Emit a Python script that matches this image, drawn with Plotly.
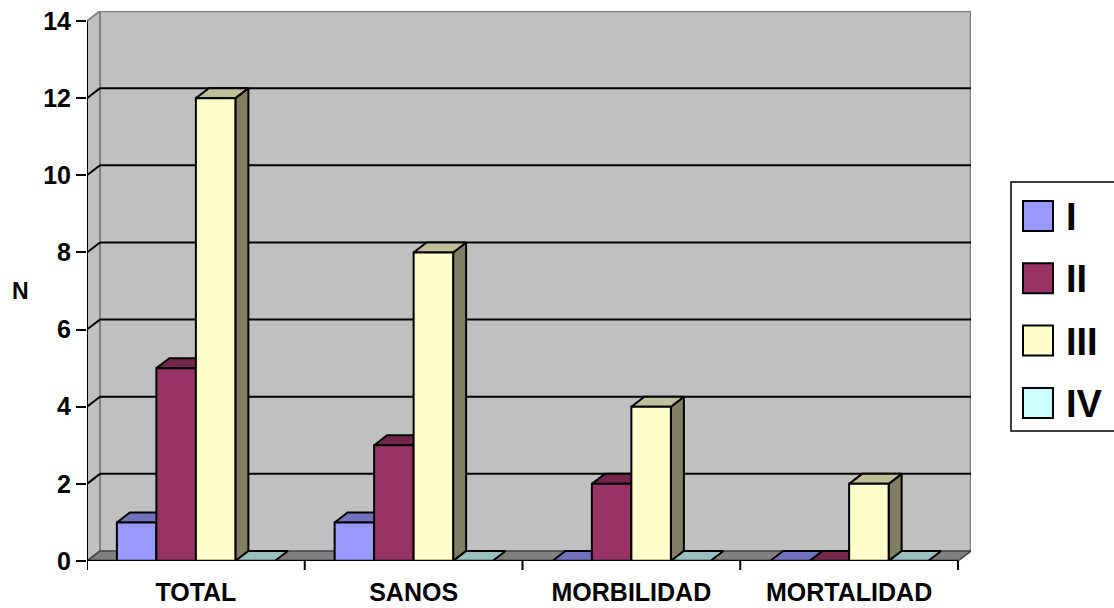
import plotly.graph_objects as go

# ---------------- data ----------------
categories = ["TOTAL", "SANOS", "MORBILIDAD", "MORTALIDAD"]
series_names = ["I", "II", "III", "IV"]
values_I = [1, 1, 0, 0]
values_II = [5, 3, 2, 0]
values_III = [12, 8, 4, 2]
values_IV = [0, 0, 0, 0]
y_tick_values = [0, 2, 4, 6, 8, 10, 12, 14]
y_axis_title = "N"

series_values = [values_I, values_II, values_III, values_IV]
front_colors = ["#9999FF", "#993366", "#FFFFCC", "#CCFFFF"]


def shade(hex_color, f):
    h = hex_color.lstrip("#")
    r, g, b = (int(h[k:k + 2], 16) for k in (0, 2, 4))
    return "#%02X%02X%02X" % (int(r * f), int(g * f), int(b * f))


top_colors = [shade(c, 0.75) for c in front_colors]
side_colors = [shade(c, 0.5) for c in front_colors]

# ---------------- geometry ----------------
W, H = 1114, 608
PL, PR, PT, PB = 87, 971, 11, 561          # plot area in pixels
n_cat = len(categories)
y_max = max(y_tick_values)
px_per_x = 871 / n_cat                      # front width of the category axis
px_per_y = 77.1 / 2
DX = 13 / px_per_x                          # 3-D depth in data units
DY = 10 / px_per_y
BW = 39.5 / px_per_x                        # bar width in data units
OFF = (1 - len(series_names) * BW) / 2

FONT = "Arial, 'Liberation Sans', sans-serif"

fig = go.Figure()


def poly(xs, ys, fill, lw=2):
    fig.add_trace(go.Scatter(
        x=xs + [xs[0]], y=ys + [ys[0]], mode="lines", fill="toself",
        fillcolor=fill, line=dict(color="black", width=lw),
        hoverinfo="skip", showlegend=False))


for i in range(n_cat):
    for j, vals in enumerate(series_values):
        v = vals[i]
        xl = i + OFF + j * BW
        xr = xl + BW
        if v > 0:
            poly([xr, xr + DX, xr + DX, xr], [0, DY, v + DY, v], side_colors[j])
        poly([xl, xr, xr + DX, xl + DX], [v, v, v + DY, v + DY], top_colors[j])
        if v > 0:
            poly([xl, xr, xr, xl], [0, 0, v, v], front_colors[j])

shapes = []
# back wall
shapes.append(dict(type="rect", xref="x", yref="y", x0=DX, x1=n_cat + DX,
                   y0=DY, y1=y_max + DY, fillcolor="#C0C0C0",
                   line=dict(width=0), layer="below"))
shapes.append(dict(type="path", xref="x", yref="y",
                   path=f"M {DX},{y_max + DY} L {n_cat + DX},{y_max + DY} L {n_cat + DX},{DY}",
                   line=dict(color="#808080", width=2.5), layer="below"))
# left wall
shapes.append(dict(type="path", xref="x", yref="y",
                   path=f"M 0,0 L 0,{y_max} L {DX},{y_max + DY} L {DX},{DY} Z",
                   fillcolor="#C0C0C0", line=dict(color="#808080", width=2),
                   layer="below"))
# floor
shapes.append(dict(type="path", xref="x", yref="y",
                   path=f"M 0,0 L {n_cat},0 L {n_cat + DX},{DY} L {DX},{DY} Z",
                   fillcolor="#808080", line=dict(color="#404040", width=1.5),
                   layer="below"))
# gridlines
for t in y_tick_values:
    if t == 0 or t == y_max:
        continue
    shapes.append(dict(type="line", xref="x", yref="y", x0=DX, x1=n_cat + DX,
                       y0=t + DY, y1=t + DY, line=dict(color="black", width=2),
                       layer="below"))
    shapes.append(dict(type="line", xref="x", yref="y", x0=0, x1=DX,
                       y0=t, y1=t + DY, line=dict(color="black", width=2),
                       layer="below"))
# front axis lines
shapes.append(dict(type="line", xref="x", yref="y", x0=0, x1=0, y0=0, y1=y_max,
                   line=dict(color="black", width=2)))
shapes.append(dict(type="line", xref="x", yref="y", x0=0, x1=n_cat, y0=0, y1=0,
                   line=dict(color="black", width=2.5)))
# category boundary tick marks
for b in range(n_cat + 1):
    shapes.append(dict(type="line", xref="x", yref="paper", x0=b, x1=b,
                       y0=0, y1=-9 / (PB - PT), line=dict(color="black", width=2)))


# ---------------- legend (manual, pixel-based) ----------------
def px_x(p):
    return (p - PL) / (PR - PL)


def px_y(p):
    return (PB - p) / (PB - PT)


lx0, ly0, ly1 = 1011, 182, 431
shapes.append(dict(type="path", xref="paper", yref="paper",
                   path=f"M {px_x(W)},{px_y(ly0)} L {px_x(lx0)},{px_y(ly0)} "
                        f"L {px_x(lx0)},{px_y(ly1)} L {px_x(W)},{px_y(ly1)}",
                   line=dict(color="black", width=1.5)))
annotations = []
for k, name in enumerate(series_names):
    cy = 216 + k * 62.3
    shapes.append(dict(type="rect", xref="paper", yref="paper",
                       x0=px_x(1023), x1=px_x(1053), y0=px_y(cy + 15), y1=px_y(cy - 15),
                       fillcolor=front_colors[k], line=dict(color="black", width=2)))
    annotations.append(dict(xref="paper", yref="paper", x=px_x(1064), y=px_y(cy + 1),
                            xanchor="left", yanchor="middle", text=name,
                            showarrow=False,
                            font=dict(family=FONT, size=38, color="black", weight="bold")))

annotations.append(dict(xref="paper", yref="paper", x=px_x(20), y=px_y(291),
                        xanchor="center", yanchor="middle", text=y_axis_title,
                        showarrow=False,
                        font=dict(family=FONT, size=23, color="black", weight="bold")))

fig.update_layout(
    width=W, height=H,
    margin=dict(l=PL, r=W - PR, t=PT, b=H - PB, pad=0, autoexpand=False),
    paper_bgcolor="white", plot_bgcolor="white",
    showlegend=False,
    shapes=shapes, annotations=annotations,
    font=dict(family=FONT, color="black"),
    xaxis=dict(range=[0, n_cat + DX], tickvals=[i + 0.5 for i in range(n_cat)],
               ticktext=categories, showgrid=False, zeroline=False, showline=False,
               ticks="outside", ticklen=9, tickcolor="rgba(0,0,0,0)",
               tickfont=dict(family=FONT, size=25, color="black", weight="bold"),
               automargin=False, fixedrange=True),
    yaxis=dict(range=[0, y_max + DY], tickvals=y_tick_values,
               ticktext=[str(t) for t in y_tick_values],
               showgrid=False, zeroline=False, showline=False,
               ticks="outside", ticklen=10, tickwidth=2, tickcolor="black",
               tickfont=dict(family=FONT, size=25, color="black", weight="bold"),
               automargin=False, fixedrange=True),
)

fig.write_html("out.html", config={"displayModeBar": False})
